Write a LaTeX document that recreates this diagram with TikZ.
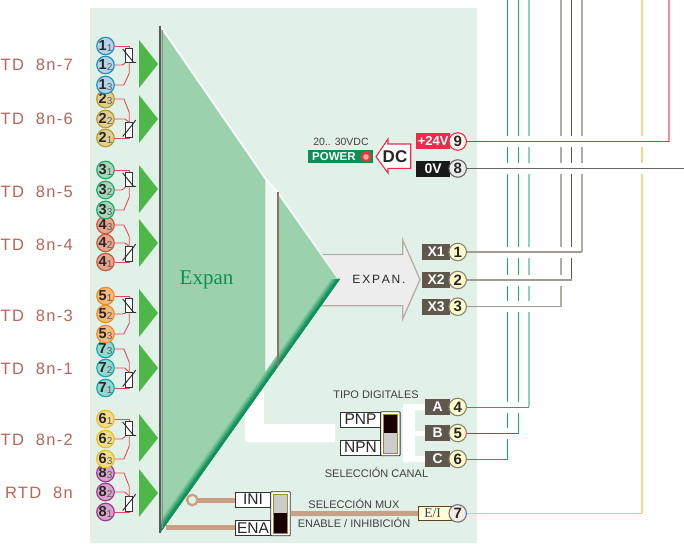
\documentclass[tikz,border=0pt]{standalone}
\usepackage{fontspec}
\setmainfont{Liberation Sans}
\newfontfamily\serifx{Liberation Serif}
\usetikzlibrary{calc,shapes.geometric}
\newcommand\fz[1]{\fontsize{#1}{#1}\selectfont}
\definecolor{bgc}{HTML}{E2F1E7}
\definecolor{tri}{HTML}{9BD2AD}
\definecolor{arrg}{HTML}{4DB848}
\definecolor{g1}{HTML}{B4D4EA}\definecolor{e1}{HTML}{2090B8}
\definecolor{g2}{HTML}{E2CF95}\definecolor{e2}{HTML}{B89A28}
\definecolor{g3}{HTML}{A6D8B8}\definecolor{e3}{HTML}{1DA86B}
\definecolor{g4}{HTML}{E8A48C}\definecolor{e4}{HTML}{C55C40}
\definecolor{g5}{HTML}{F9B87C}\definecolor{e5}{HTML}{F08C20}
\definecolor{g7}{HTML}{97D6D0}\definecolor{e7}{HTML}{12A8A8}
\definecolor{g6}{HTML}{F5DC8C}\definecolor{e6}{HTML}{ECBE20}
\definecolor{g8}{HTML}{D5A3C8}\definecolor{e8}{HTML}{A0388C}
\definecolor{rtdred}{HTML}{E94560}
\definecolor{lab}{HTML}{B5675A}
\definecolor{boxb}{HTML}{5F564C}
\definecolor{brn}{HTML}{C9A083}
\definecolor{pwr}{HTML}{0A8F55}
\definecolor{redw}{HTML}{EE2A4B}
\definecolor{gv}{HTML}{B0ACA4}
\definecolor{gh}{HTML}{A09C94}
\definecolor{orv}{HTML}{FBD48A}
\definecolor{orh}{HTML}{F5C265}
\definecolor{arrb}{HTML}{B5AEA4}
\definecolor{bell}{HTML}{8A8270}
\tikzset{
  x=1pt,y=-1pt,
  rc/.style={circle,line width=1.2pt,minimum size=17pt,inner sep=0pt,font=\fz{14.5}\bfseries,text=black!85},
  tc/.style={circle,draw,line width=1.1pt,minimum size=17.5pt,inner sep=0pt,font=\fz{15}\bfseries,text=black!85},
  tagbox/.style={anchor=west,minimum height=16pt,inner sep=0pt,font=\fz{14}\bfseries,text=white,fill=boxb,align=center},
  lbl/.style={font=\fz{16.5}\addfontfeature{LetterSpace=8},text=lab,anchor=east,inner sep=0pt},
  captxt/.style={font=\fz{11},text=black!75,inner sep=0pt},
  rtdbox/.style={draw=black!80,fill=white,line width=1pt,minimum width=6.5pt,minimum height=14.5pt,inner sep=0pt},
  rw/.style={draw=rtdred,line width=.9pt},
  swlab/.style={draw=black!80,fill=white,line width=.9pt,inner sep=0pt,font=\fz{15.5},text=black!85},
  halo/.style={draw=white,line width=11pt,shorten >=2.6pt},
  barline/.style={draw=brn,line width=5pt},
}
\newcommand\spc{\hspace{1.8pt}}
\newcommand\rtdup[1]{%
  \node[rtdbox] (r#1) at ($(c#11)+(23.7pt,-9.5pt)$) {};
  \draw[rw] (c#11.east) -- (c#11.east -| r#1.north) -- (r#1.north);
  \draw[rw] (c#12.east) -- ++(7,0) -- (r#1.south west);
  \draw[rw] (c#13.east) -- ++(9,0) -- ([yshift=-10pt]r#1.south) -- (r#1.south);
  \draw[black!85,line width=.9pt] ([shift={(-6.5pt,6.5pt)}]r#1.center) -- ([shift={(4.5pt,-7pt)}]r#1.center) -- ++(2.5,0);
}
\newcommand\rtddn[1]{%
  \node[rtdbox] (r#1) at ($(c#11)+(23.7pt,8pt)$) {};
  \draw[rw] (c#11.east) -- (c#11.east -| r#1.south) -- (r#1.south);
  \draw[rw] (c#12.east) -- ++(10,0) -- (r#1.north);
  \draw[rw] (c#13.east) -- ++(9,0) -- ([yshift=10pt]r#1.north) -- (r#1.north);
  \draw[black!85,line width=.9pt] ([shift={(-6.5pt,-6.5pt)}]r#1.center) -- ([shift={(4.5pt,7pt)}]r#1.center) -- ++(2,-3);
}
\begin{document}
\begin{tikzpicture}
\useasboundingbox (0,0) rectangle (684,543);
\fill[bgc] (90,8) rectangle (477,543);
% white channels
\fill[white] (264,382) -- (264,424) -- (335,424) -- (335,442) -- (245,442) -- (245,410) -- cycle;
\fill[white] (403,404) -- (425,404) -- (425,410) -- (415,410) -- (415,431) -- (425,431) -- (425,436) -- (415,436) -- (415,456) -- (425,456) -- (425,462) -- (403,462) -- cycle;
% expansion arrow
\filldraw[fill=black!7,draw=arrb,line width=1.3pt] (322,254.5) -- (402.7,254.5) -- (402.7,240) -- (420,279.5) -- (402.7,319) -- (402.7,305.7) -- (322,305.7) -- cycle;
\node[font=\fz{12},text=black!85,inner sep=0pt] (exptxt) at (379,279.5) {E\spc X\spc P\spc A\spc N\spc.};
% big triangle
\fill[tri] (160,27) -- (265,178) -- (265,385) -- (160,533) -- cycle;
\fill[tri] (278,193) -- (340,279) -- (278,366) -- cycle;
\fill[bgc!60!white] (266,179) -- (277,193) -- (277,370) -- (266,385) -- cycle;
\draw[white,line width=1.8pt,opacity=.85] (161,27) -- (265,178) (265,178) -- (278,193) -- (338,278);
\foreach \w/\m in {9/85,7.5/65,6/45,4.5/25,3/5}
  \fill[pwr!\the\numexpr100-\m\relax!tri] (340,279) -- (160,533) -- (160,533-\w*1.4) -- (340-\w,279) -- cycle;
\draw[black!65,line width=2.6pt] (160,26) -- (160,533);
\draw[black!45,line width=1pt] (162,30) -- (162,528);
\draw[black!55!brown!70,line width=1.5pt] (278,192) -- (278,366);
\node[font=\serifx\fz{21},text=pwr,inner sep=0pt] (expan) at (206.5,280) {Expan};
% green arrows
\foreach \yy in {64,119,189,243,313,368,438,493}
  \fill[arrg] (139,\yy-24) -- (158,\yy) -- (139,\yy+24) -- cycle;
% left labels
\node[lbl] (l1) at (73,64.5) {TD\ \ 8n-7};
\node[lbl] (l2) at (73,118.5) {TD\ \ 8n-6};
\node[lbl] (l3) at (73,191.5) {TD\ \ 8n-5};
\node[lbl] (l4) at (73,244.5) {TD\ \ 8n-4};
\node[lbl] (l5) at (73,315.5) {TD\ \ 8n-3};
\node[lbl] (l6) at (73,368.5) {TD\ \ 8n-1};
\node[lbl] (l7) at (73,439.5) {TD\ \ 8n-2};
\node[lbl] (l8) at (73,492.5) {RTD\ \ 8n};
% sensor circles (lower groups first)
\foreach \g/\s/\yy in {8/3/473,8/2/492,8/1/512,6/1/419,6/2/439,6/3/459,
                       7/3/349,7/2/368,7/1/388,5/1/296,5/2/314,5/3/334,
                       4/3/225,4/2/243,4/1/262,3/1/170,3/2/190,3/3/210,
                       2/3/99,2/2/119,2/1/138,1/1/46,1/2/65,1/3/85}
  \node[rc,draw=e\g,fill=g\g] (c\g\s) at (105.5,\yy) {\g\raisebox{-1pt}{\fz{10}\mdseries\textcolor{black!65}{\s}}};
\rtdup{1}\rtdup{3}\rtdup{5}\rtdup{6}
\rtddn{2}\rtddn{4}\rtddn{7}\rtddn{8}
% power
\node[captxt,font=\fz{10.5}] (v2030) at (341,142) {20.. 30VDC};
\node[fill=pwr,minimum width=65pt,minimum height=12.7pt,inner sep=0pt] (pwrbox) at (340.5,156.4) {};
\node[font=\fz{11.5}\bfseries,text=white,inner sep=0pt,anchor=west] (pwrt) at (312,156.6) {POWER};
\fill[red!75!white!90!black] (366,156.5) circle (5.5);
\fill[red!35!white] (366,157) circle (2.8);
\filldraw[fill=white,draw=redw,line width=1.1pt] (376,156.7) -- (388,139) -- (388,144) -- (410.7,144) -- (410.7,168.3) -- (388,168.3) -- (388,173) -- cycle;
\node[font=\fz{17}\bfseries,text=black!85,inner sep=0pt] (dc) at (395,157) {DC};
% tags
\node[tagbox,fill=redw,minimum width=34pt,font=\fz{13}\bfseries] (t9) at (416,141) {+24V};
\node[tagbox,fill=black!90,minimum width=34pt] (t8) at (416,169) {0V};
\node[tagbox,minimum width=28pt] (t1) at (422,252) {X1};
\node[tagbox,minimum width=28pt] (t2) at (422,280) {X2};
\node[tagbox,minimum width=28pt] (t3) at (422,306.5) {X3};
\node[tagbox,minimum width=25pt] (t4) at (425,407) {A};
\node[tagbox,minimum width=25pt] (t5) at (425,433) {B};
\node[tagbox,minimum width=25pt] (t6) at (425,459) {C};
\node[draw=black!50!brown,fill=yellow!15!white,line width=.8pt,inner sep=0pt,minimum width=33.5pt,minimum height=14.6pt,font=\serifx\fz{13.5},text=black!75,anchor=west] (t7) at (418,513.4) {\hspace{-5pt}E/I};
% terminal circles
\node[tc,draw=redw,fill=orange!8!white] (n9) at (457.7,141.5) {9};
\node[tc,draw=black!60,fill=black!8] (n8) at (457.7,168.5) {8};
\foreach \n/\yy in {1/252,2/280,3/306.7,4/407,5/433,6/459}
  \node[tc,draw=bell,fill=yellow!20!white] (n\n) at (457.7,\yy) {\n};
\node[tc,draw=black!55,fill=brown!15!white] (n7) at (457.7,513.4) {7};
% captions
\node[captxt] (cp1) at (376,395) {TIPO DIGITALES};
\node[captxt] (cp2) at (376.5,473) {SELECCIÓN CANAL};
\node[captxt] (cp3) at (354,504) {SELECCIÓN MUX};
\node[captxt] (cp4) at (354,523) {ENABLE / INHIBICIÓN};
% digital switch
\node[swlab,minimum width=39.5pt,minimum height=15pt] (pnp) at (360.5,419.5) {PNP};
\node[swlab,minimum width=39.5pt,minimum height=15pt] (npn) at (360.5,447.5) {NPN};
\node[draw=black!80,fill=white,rounded corners=.8pt,line width=.9pt,minimum width=19.5pt,minimum height=44pt,inner sep=0pt] (sw1) at (390.3,433.7) {};
\fill[black!20] (383.3,433) rectangle (397.5,453);
\fill[black!90!red] (383.3,414) rectangle (397.5,433);
\draw[olive!70!brown,line width=.9pt] (383.3,414) rectangle (397.5,453);
% mux switch
\draw[barline] (197,500) -- (235,500);
\draw[barline] (166,527) -- (235,527);
\node[circle,draw=brn,line width=2.3pt,fill=bgc,minimum size=10.5pt,inner sep=0pt] (ring) at (192.3,500) {};
\node[swlab,minimum width=35.7pt,minimum height=15pt] (ini) at (253,499.5) {INI};
\node[swlab,minimum width=35.7pt,minimum height=15pt] (ena) at (253,528) {ENA};
\node[draw=black!80,fill=white,rounded corners=.8pt,line width=.9pt,minimum width=19.5pt,minimum height=44pt,inner sep=0pt] (sw2) at (280.5,513.7) {};
\fill[black!20] (273.4,494) rectangle (287.6,513);
\fill[black!90!red] (273.4,513) rectangle (287.6,533);
\draw[olive!70!brown,line width=.9pt] (273.4,494) rectangle (287.6,533);
\draw[barline] (sw2.east) -- (t7.west);
% right wires
\coordinate (edge) at (478,0);
\coordinate (v6) at (507.5,0);
\coordinate (v5) at (518.5,0);
\coordinate (v4) at (529,0);
\coordinate (v3) at (561,0);
\coordinate (v2) at (571.5,0);
\coordinate (v1) at (582,0);
\coordinate (v7) at (642,0);
\coordinate (v9) at (669,0);
\coordinate (v8) at (684,0);
\draw[line width=1pt,draw=e3] (n6.east -| v6) -- (v6);
\draw[line width=1pt,draw=e3!85!green] (n5.east -| v5) -- (v5);
\draw[line width=2pt,draw=e3!50!white] (n4.east -| v4) -- (v4);
\draw[line width=1.5pt,draw=gv] (n3.east -| v3) -- (v3);
\draw[line width=1pt,draw=boxb] (n2.east -| v2) -- (v2);
\draw[line width=1.5pt,draw=gv] (n1.east -| v1) -- (v1);
\draw[line width=2pt,draw=orv] (n7.east -| v7) -- (v7);
\draw[line width=2pt,draw=redw!55!white] (n9.east -| v9) -- (v9);
\foreach \n/\v in {9/v9,8/v8,1/v1,2/v2,3/v3,4/v4,5/v5}
  \draw[halo] (n\n.east -| edge) -- (n\n.east -| \v);
\draw[redw,line width=1.1pt] (n9.east) -- (n9.east -| v9);
\draw[black!60,line width=1.3pt] (n8.east) -- (n8.east -| v8);
\draw[gh,line width=1.3pt] (n1.east) -- (n1.east -| v1);
\draw[gh,line width=1.3pt] (n2.east) -- (n2.east -| v2);
\draw[gh,line width=1.3pt] (n3.east) -- (n3.east -| v3);
\draw[e3,line width=1pt] (n4.east) -- (n4.east -| v4);
\draw[e3!80!black,line width=1pt] (n5.east) -- (n5.east -| v5);
\draw[e3,line width=1pt] (n6.east) -- (n6.east -| v6);
\draw[orh,line width=1pt] (n7.east) -- (n7.east -| v7);
\end{tikzpicture}
\end{document}
